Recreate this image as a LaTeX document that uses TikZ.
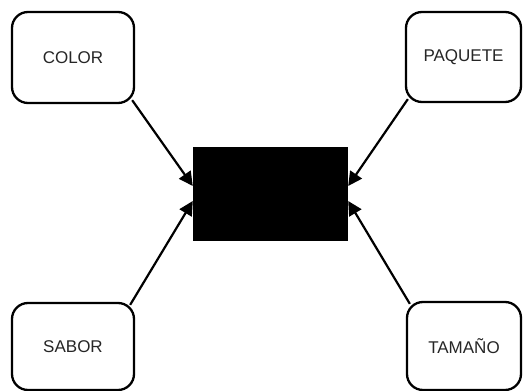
\documentclass[tikz,border=0pt]{standalone}
\usepackage{fontspec}
\setmainfont{Liberation Sans}
\usetikzlibrary{arrows.meta,backgrounds}
\begin{document}
\begin{tikzpicture}[x=1pt,y=1pt,
  attr/.style={draw=black, line width=2.3pt, rounded corners=16pt, fill=white,
    inner sep=0pt, font=\fontsize{17}{19}\selectfont, text=black!85},
  core/.style={fill=black, draw=none, inner sep=0pt, minimum width=155pt, minimum height=94pt},
  link/.style={line width=2.2pt, -{Triangle[length=14pt,width=14pt]}}]
  \useasboundingbox (0,0) rectangle (523,391);
  % central block
  \node[core] (mid) at (270.5,197) {};
  % attribute boxes
  \node[attr, minimum width=122pt, minimum height=91pt] (color) at (73,333.5) {COLOR};
  \node[attr, minimum width=115pt, minimum height=90pt] (paquete) at (463.5,334) {PAQUETE};
  \node[attr, minimum width=122pt, minimum height=87pt] (sabor) at (73,44.5) {SABOR};
  \node[attr, minimum width=114pt, minimum height=88pt] (tamano) at (464,45) {TAMAÑO};
  % arrow targets on the block sides
  \coordinate (tl) at ([yshift=8pt]mid.west);
  \coordinate (bl) at ([yshift=-7pt]mid.west);
  \coordinate (tr) at ([yshift=8pt]mid.east);
  \coordinate (br) at ([yshift=-7pt]mid.east);
  \begin{scope}[on background layer]
    \draw[link] ([shift={(-3pt,4pt)}]color.south east) -- (tl);
    \draw[link] ([shift={(-5pt,-3pt)}]sabor.north east) -- (bl);
    \draw[link] ([shift={(3pt,4pt)}]paquete.south west) -- (tr);
    \draw[link] ([shift={(4pt,-3pt)}]tamano.north west) -- (br);
  \end{scope}
\end{tikzpicture}
\end{document}
